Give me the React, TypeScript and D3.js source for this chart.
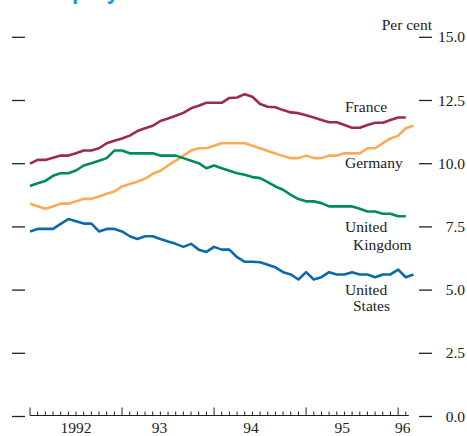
import React from "react";
import * as d3 from "d3";

// Monthly observations starting January 1992 (month index 0)
const france = [10.0, 10.15, 10.15, 10.24, 10.32, 10.32, 10.41, 10.52, 10.52, 10.61, 10.81, 10.91, 11.0, 11.11, 11.29, 11.4, 11.5, 11.69, 11.79, 11.9, 12.01, 12.19, 12.29, 12.41, 12.41, 12.41, 12.6, 12.62, 12.75, 12.65, 12.36, 12.25, 12.23, 12.12, 12.03, 12.0, 11.92, 11.83, 11.73, 11.64, 11.64, 11.53, 11.42, 11.42, 11.53, 11.62, 11.62, 11.73, 11.83, 11.83];
const germany = [8.42, 8.32, 8.22, 8.31, 8.42, 8.42, 8.51, 8.61, 8.61, 8.7, 8.81, 8.9, 9.1, 9.2, 9.29, 9.41, 9.6, 9.72, 9.93, 10.12, 10.32, 10.52, 10.61, 10.61, 10.71, 10.81, 10.81, 10.81, 10.81, 10.71, 10.61, 10.5, 10.4, 10.3, 10.22, 10.22, 10.32, 10.22, 10.22, 10.32, 10.32, 10.41, 10.41, 10.41, 10.61, 10.61, 10.81, 11.0, 11.11, 11.4, 11.5];
const unitedKingdom = [9.12, 9.23, 9.32, 9.52, 9.62, 9.62, 9.73, 9.93, 10.02, 10.12, 10.22, 10.52, 10.52, 10.41, 10.41, 10.41, 10.41, 10.32, 10.32, 10.32, 10.22, 10.12, 10.02, 9.82, 9.93, 9.82, 9.72, 9.62, 9.56, 9.47, 9.43, 9.27, 9.1, 8.97, 8.77, 8.6, 8.51, 8.51, 8.44, 8.31, 8.31, 8.31, 8.31, 8.22, 8.11, 8.11, 8.02, 8.02, 7.92, 7.92];
const unitedStates = [7.32, 7.42, 7.42, 7.42, 7.62, 7.81, 7.72, 7.63, 7.63, 7.32, 7.42, 7.42, 7.32, 7.13, 7.02, 7.13, 7.13, 7.02, 6.92, 6.83, 6.71, 6.83, 6.6, 6.51, 6.71, 6.6, 6.6, 6.3, 6.12, 6.12, 6.1, 6.0, 5.9, 5.71, 5.62, 5.42, 5.71, 5.42, 5.51, 5.71, 5.62, 5.62, 5.71, 5.62, 5.62, 5.51, 5.62, 5.62, 5.81, 5.51, 5.62];

const seriesNames = ["France", "Germany", "United Kingdom", "United States"];
const seriesColors = ["#9a2d4b", "#fdaa57", "#008a5e", "#0a6aaa"];
const seriesData = [france, germany, unitedKingdom, unitedStates];

const yTicks = [0, 2.5, 5, 7.5, 10, 12.5, 15];
const yearLabels = ["1992", "93", "94", "95", "96"];
const yearLabelMonths = [6, 16.9, 28.8, 40.7, 48.6];
const majorTickMonths = [0, 12, 24, 36, 48];

const W = 467;
const H = 436;

export default function App() {
  const x = d3.scaleLinear().domain([0, 49]).range([30, 405.8]);
  const y = d3.scaleLinear().domain([0, 15]).range([416.5, 37.3]);
  const line = d3
    .line<number>()
    .x((_, i) => x(i))
    .y((d) => y(d));

  const minorTicks = d3.range(0, 50);
  const serif = "'Liberation Serif', 'Times New Roman', serif";
  const fs = 15.5;
  const axisY = y(0) - 1;

  const labelLines: { text: string; x: number; y: number }[] = [
    { text: "France", x: 345, y: 112 },
    { text: "Germany", x: 345, y: 168 },
    { text: "United", x: 345, y: 232 },
    { text: "Kingdom", x: 353, y: 250 },
    { text: "United", x: 345, y: 295 },
    { text: "States", x: 353, y: 311 },
  ];

  return (
    <svg
      width={W}
      height={H}
      style={{ position: "absolute", left: 0, top: 0, background: "#fff" }}
    >
      <text
        x={8}
        y={-1.5}
        fill="#1a9ad6"
        fontFamily="'Liberation Sans', Arial, sans-serif"
        fontWeight="bold"
        fontSize={23}
      >
        Unemployment rates
      </text>

      {yTicks.map((t) => (
        <line key={"l" + t} x1={12} x2={25} y1={y(t)} y2={y(t)} stroke="#222" strokeWidth={1.3} />
      ))}
      {yTicks.map((t) => (
        <g key={"r" + t}>
          <line x1={419} x2={432} y1={y(t)} y2={y(t)} stroke="#222" strokeWidth={1.3} />
          <text
            x={465}
            y={y(t) + 5}
            textAnchor="end"
            fontFamily={serif}
            fontSize={fs}
            fill="#222"
          >
            {d3.format(".1f")(t)}
          </text>
        </g>
      ))}
      <text x={432} y={30} textAnchor="end" fontFamily={serif} fontSize={fs} fill="#222">
        Per cent
      </text>

      <line x1={x(0)} x2={x(49.4)} y1={axisY} y2={axisY} stroke="#222" strokeWidth={1} />
      {minorTicks.map((m) => (
        <line
          key={"m" + m}
          x1={x(m)}
          x2={x(m)}
          y1={axisY}
          y2={axisY - (majorTickMonths.includes(m) ? 8 : 4)}
          stroke="#222"
          strokeWidth={1}
        />
      ))}
      {yearLabels.map((lab, i) => (
        <text
          key={lab}
          x={x(yearLabelMonths[i])}
          y={433}
          textAnchor="middle"
          fontFamily={serif}
          fontSize={fs}
          fill="#222"
        >
          {lab}
        </text>
      ))}

      {seriesData.map((d, i) => (
        <path
          key={seriesNames[i]}
          d={line(d) || ""}
          fill="none"
          stroke={seriesColors[i]}
          strokeWidth={2.6}
          strokeLinejoin="round"
        />
      ))}

      {labelLines.map((l, i) => (
        <text key={i} x={l.x} y={l.y} fontFamily={serif} fontSize={fs} fill="#222">
          {l.text}
        </text>
      ))}
    </svg>
  );
}
